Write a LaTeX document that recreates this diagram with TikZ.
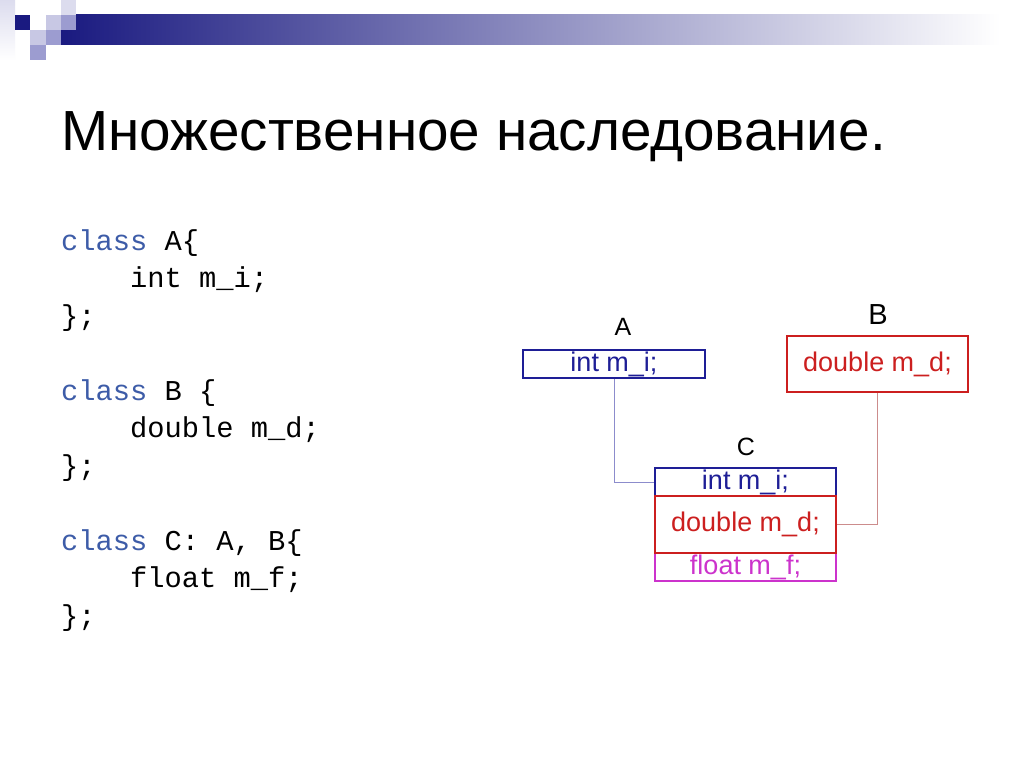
\documentclass[tikz,border=0pt]{standalone}
\usepackage{fontspec}
\setmainfont{Liberation Sans}
\setmonofont{Liberation Mono}
\definecolor{navy}{HTML}{1A1A80}
\definecolor{lav}{HTML}{C8C8E4}
\definecolor{lavmid}{HTML}{9C9CD0}
\definecolor{lavlight}{HTML}{DCDCEE}
\definecolor{barmid}{HTML}{9C9EB2}
\definecolor{kw}{HTML}{3D5CA8}
\definecolor{cblue}{HTML}{1E1E96}
\definecolor{cred}{HTML}{CC1F1F}
\definecolor{cmag}{HTML}{CC33CC}
\definecolor{lnblue}{HTML}{8C8CCC}
\definecolor{lnred}{HTML}{CC8C8C}
\tikzset{
  code/.style={anchor=base west, inner sep=0pt, font=\fontsize{28.75}{30}\ttfamily},
  field/.style={draw, line width=1.6pt, minimum width=181pt, inner sep=0pt, font=\fontsize{27}{30}\selectfont},
  lbl/.style={inner sep=0pt},
  link/.style={line width=1pt}
}
\begin{document}
\begin{tikzpicture}[x=1pt,y=-1pt]
\useasboundingbox (0,0) rectangle (1024,768);
\fill[white] (0,0) rectangle (1024,768);
% header decoration
\shade[left color=navy, middle color=barmid, right color=white, shading angle=90] (61,15) rectangle (1000,45);
\shade[top color=lavlight, bottom color=white] (0,0) rectangle (15,60);
\fill[navy] (15,15) rectangle (30,30);
\fill[lav] (46,15) rectangle (61,30);
\fill[lavmid] (61,15) rectangle (76,30);
\fill[lavlight] (61,0) rectangle (76,15);
\fill[lav] (30,30) rectangle (46,45);
\fill[lavmid] (46,30) rectangle (61,45);
\fill[lavmid] (30,45) rectangle (46,60);
% title
\node[anchor=base west, inner sep=0pt, font=\fontsize{56.6}{60}\selectfont] (title) at (61,150) {Множественное наследование.};
% code
\node[code] (l1) at (61,250) {\textcolor{kw}{class} A\{};
\node[code] (l2) at (61,287.5) {\ \ \ \ int m\_i;};
\node[code] (l3) at (61,325) {\};};
\node[code] (l4) at (61,400) {\textcolor{kw}{class} B \{};
\node[code] (l5) at (61,437.5) {\ \ \ \ double m\_d;};
\node[code] (l6) at (61,475) {\};};
\node[code] (l7) at (61,550) {\textcolor{kw}{class} C: A, B\{};
\node[code] (l8) at (61,587.5) {\ \ \ \ float m\_f;};
\node[code] (l9) at (61,625) {\};};
% diagram
\node[lbl, font=\fontsize{25}{27}\selectfont] (la) at (623,327) {A};
\node[lbl, font=\fontsize{29}{31}\selectfont] (lb) at (878,315) {B};
\node[lbl, font=\fontsize{25}{27}\selectfont] (lc) at (746,447) {C};
\node[field, draw=cblue, text=cblue, minimum width=182pt, minimum height=28pt] (A) at (614,364) {int m\_i;};
\node[field, draw=cred, text=cred, minimum height=56pt] (B) at (877.5,364) {double m\_d;};
\node[field, draw=cblue, text=cblue, minimum height=28pt] (C1) at (745.5,482) {int m\_i;};
\node[field, draw=cmag, text=cmag, minimum height=28pt] (C3) at (745.5,567) {float m\_f;};
\node[field, draw=cred, text=cred, minimum height=57pt] (C2) at (745.5,524.5) {double m\_d;};
\draw[link, lnblue] (A.south) |- (C1.west);
\draw[link, lnred] (B.south) |- (C2.east);
\end{tikzpicture}
\end{document}
